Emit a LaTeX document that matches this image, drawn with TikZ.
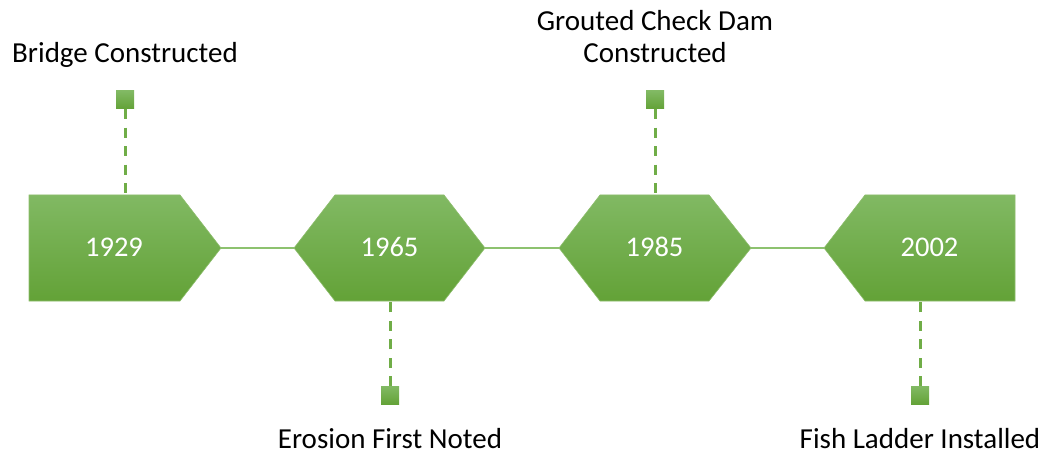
\documentclass[tikz,border=0pt]{standalone}
\usepackage{fontspec}
\setmainfont{Carlito}

\definecolor{gtop}{HTML}{81B963}
\definecolor{gbot}{HTML}{63A237}
\definecolor{gmid}{HTML}{70AD47}
\definecolor{gline}{HTML}{8DC26F}

\begin{document}
\begin{tikzpicture}[x=1pt,y=-1pt,
  yearbox/.style={top color=gtop,bottom color=gbot,draw=gmid!80!white,line width=0.6pt},
  year/.style={text=white,font=\fontsize{28.5}{34}\selectfont,anchor=base,inner sep=0pt},
  marker/.style={top color=gtop,bottom color=gbot,minimum size=18pt,inner sep=0pt},
  guide/.style={draw=gmid,line width=3pt,dash pattern=on 10pt off 8.5pt},
  link/.style={draw=gline,line width=1.8pt},
  event/.style={font=\fontsize{29}{32}\selectfont,anchor=base,inner sep=0pt}]
  \useasboundingbox (0,0) rectangle (1048,454);

  % tips and attach points
  \coordinate (s1e) at (221,248);
  \coordinate (s1n) at (125,195);
  \coordinate (s2w) at (294,248);
  \coordinate (s2e) at (485,248);
  \coordinate (s2s) at (390,301);
  \coordinate (s3w) at (559,248);
  \coordinate (s3e) at (751,248);
  \coordinate (s3n) at (655,195);
  \coordinate (s4w) at (824,248);
  \coordinate (s4s) at (920,301);

  % timeline
  \draw[link] (s1e) -- (s2w);
  \draw[link] (s2e) -- (s3w);
  \draw[link] (s3e) -- (s4w);

  % boxes
  \path[yearbox] (29,195) -- (180,195) -- (s1e) -- (180,301) -- (29,301) -- cycle;
  \path[yearbox] (s2w) -- (335,195) -- (444,195) -- (s2e) -- (444,301) -- (335,301) -- cycle;
  \path[yearbox] (s3w) -- (600,195) -- (709,195) -- (s3e) -- (709,301) -- (600,301) -- cycle;
  \path[yearbox] (s4w) -- (865,195) -- (1015,195) -- (1015,301) -- (865,301) -- cycle;

  % years
  \node[year] (y1929) at (114,256) {1929};
  \node[year] (y1965) at (389.5,256) {1965};
  \node[year] (y1985) at (654.5,256) {1985};
  \node[year] (y2002) at (929.5,256) {2002};

  % markers
  \node[marker] (m1) at (125,100) {};
  \node[marker] (m2) at (390,395.5) {};
  \node[marker] (m3) at (655,100) {};
  \node[marker] (m4) at (920,395.5) {};

  \draw[guide] (m1) -- (s1n);
  \draw[guide] (m2) -- (s2s);
  \draw[guide] (m3) -- (s3n);
  \draw[guide] (m4) -- (s4s);

  % events
  \node[event] (e1) at (125,63) {Bridge Constructed};
  \node[event] (e2) at (390,448) {Erosion First Noted};
  \node[event] (e3a) at (655,31) {Grouted Check Dam};
  \node[event] (e3b) at (655,63) {Constructed};
  \node[event] (e4) at (920,448) {Fish Ladder Installed};
\end{tikzpicture}
\end{document}
